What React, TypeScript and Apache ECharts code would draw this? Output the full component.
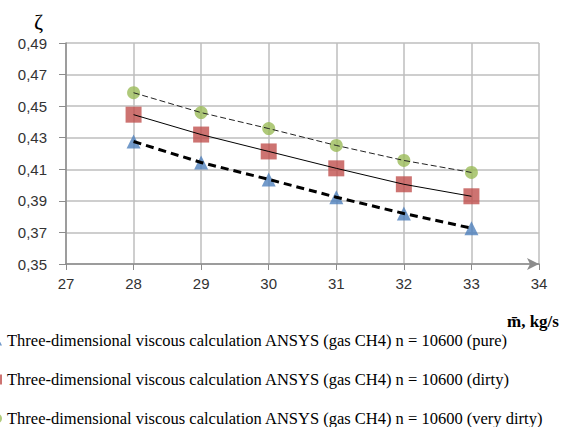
import React, { useEffect, useRef } from "react";
import * as echarts from "echarts";

const massFlow = [28, 29, 30, 31, 32, 33];
const purePts = [0.4276, 0.4143, 0.4036, 0.3923, 0.382, 0.3727];
const dirtyPts = [0.4446, 0.432, 0.4213, 0.4106, 0.4005, 0.3929];
const veryDirtyPts = [0.4585, 0.4459, 0.4358, 0.4251, 0.4156, 0.408];
const yTicks = [0.35, 0.37, 0.39, 0.41, 0.43, 0.45, 0.47, 0.49];
const seriesNames = [
  "Three-dimensional viscous calculation ANSYS (gas CH4) n = 10600 (pure)",
  "Three-dimensional viscous calculation ANSYS (gas CH4) n = 10600 (dirty)",
  "Three-dimensional viscous calculation ANSYS (gas CH4) n = 10600 (very dirty)",
];

const pair = (ys: number[]) => massFlow.map((x, i) => [x, ys[i]]);

export default function App() {
  const ref = useRef<HTMLDivElement>(null);
  useEffect(() => {
    if (!ref.current) return;
    const chart = echarts.init(ref.current, undefined, { renderer: "svg" });
    chart.setOption({
      animation: false,
      backgroundColor: "#ffffff",
      grid: { left: 66, right: 34, top: 43, bottom: 163, containLabel: false },
      xAxis: {
        type: "value",
        min: 27,
        max: 34,
        interval: 1,
        axisLine: {
          show: true,
          lineStyle: { color: "#8C8C8C", width: 1.5 },
          symbol: ["none", "arrow"],
          symbolSize: [9, 12],
        },
        axisTick: { show: true, length: 6, lineStyle: { color: "#8C8C8C" } },
        axisLabel: { margin: 12, fontSize: 15, color: "#333", fontFamily: "Liberation Sans" },
        splitLine: { show: true, lineStyle: { color: "#BEBEBE", width: 1.5 } },
      },
      yAxis: {
        type: "value",
        min: 0.35,
        max: 0.49,
        axisLine: { show: true, lineStyle: { color: "#8C8C8C", width: 1.5 } },
        axisTick: { show: true, length: 7, customValues: yTicks, lineStyle: { color: "#8C8C8C" } },
        axisLabel: {
          margin: 19,
          fontSize: 15,
          color: "#333",
          fontFamily: "Liberation Sans",
          customValues: yTicks,
          formatter: (v: number) => v.toFixed(2).replace(".", ","),
        },
        splitLine: { show: true, lineStyle: { color: "#BEBEBE", width: 1.5 } },
      },
      legend: {
        orient: "vertical",
        left: -8,
        top: 332,
        height: 95,
        padding: 0,
        itemWidth: 10,
        itemHeight: 10,
        itemGap: 22,
        textStyle: { fontFamily: "Liberation Serif", fontSize: 16.5, color: "#000", lineHeight: 16 },
        data: [
          { name: seriesNames[0], icon: "triangle" },
          { name: seriesNames[1], icon: "rect" },
          { name: seriesNames[2], icon: "circle" },
        ],
      },
      graphic: [
        {
          type: "text",
          left: 34,
          top: 10,
          style: { text: "ζ", font: "22px 'Liberation Serif'", fill: "#000" },
        },
        {
          type: "text",
          left: 507,
          top: 313,
          style: { text: "m\u0304, kg/s", font: "bold 17px 'Liberation Serif'", fill: "#000" },
        },
      ],
      series: [
        {
          name: seriesNames[0],
          type: "scatter",
          data: pair(purePts),
          symbol: "triangle",
          symbolSize: 14,
          itemStyle: { color: "#4F81BD" },
          z: 2,
        },
        {
          name: seriesNames[1],
          type: "scatter",
          data: pair(dirtyPts),
          symbol: "rect",
          symbolSize: 16,
          itemStyle: { color: "#C0504D" },
          z: 2,
        },
        {
          name: seriesNames[2],
          type: "scatter",
          data: pair(veryDirtyPts),
          symbol: "circle",
          symbolSize: 13,
          itemStyle: { color: "#9BBB59" },
          z: 2,
        },
        {
          name: "trend-pure",
          type: "line",
          data: pair(purePts),
          showSymbol: false,
          symbol: "none",
          lineStyle: { color: "#000", width: 3, type: [8, 5] },
          z: 3,
        },
        {
          name: "trend-dirty",
          type: "line",
          data: pair(dirtyPts),
          showSymbol: false,
          symbol: "none",
          lineStyle: { color: "#000", width: 1 },
          z: 3,
        },
        {
          name: "trend-verydirty",
          type: "line",
          data: pair(veryDirtyPts),
          showSymbol: false,
          symbol: "none",
          lineStyle: { color: "#222", width: 1, type: [6, 3] },
          z: 3,
        },
      ],
    });
    return () => chart.dispose();
  }, []);
  return <div ref={ref} style={{ width: 573, height: 427, position: "fixed", left: 0, top: 0 }} />;
}
